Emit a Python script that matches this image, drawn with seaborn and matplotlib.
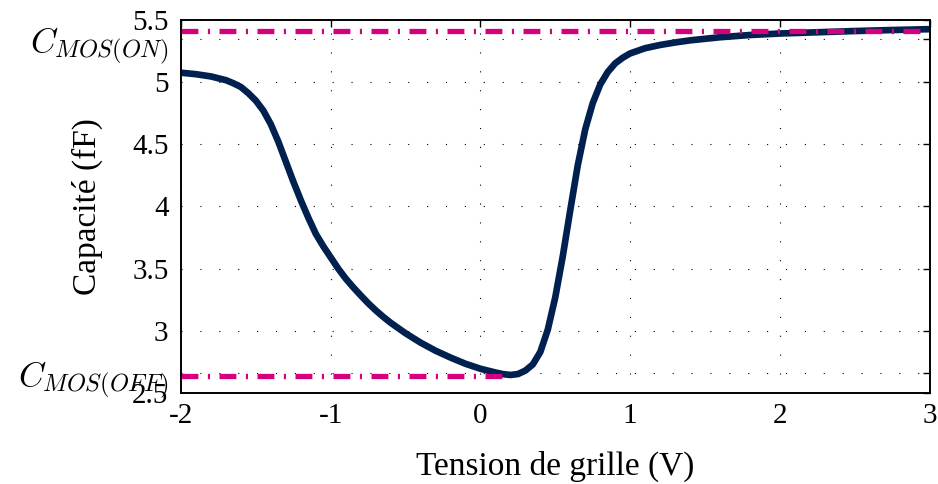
import matplotlib
matplotlib.use("Agg")
import matplotlib.pyplot as plt
import pandas as pd
import seaborn as sns

# ── data ────────────────────────────────────────────────────────────────────
v_gate = [-2.0, -1.9, -1.8, -1.7, -1.65, -1.6, -1.55, -1.5, -1.45, -1.4,
          -1.35, -1.3, -1.25, -1.2, -1.15, -1.1, -1.05, -1.0, -0.95, -0.9,
          -0.85, -0.8, -0.75, -0.7, -0.65, -0.6, -0.5, -0.4, -0.3, -0.2,
          -0.1, 0.0, 0.1, 0.15, 0.2, 0.25, 0.3, 0.35, 0.4,
          0.45, 0.5, 0.55, 0.6, 0.65, 0.7, 0.75, 0.8, 0.85, 0.9,
          0.95, 1.0, 1.1, 1.2, 1.3, 1.4, 1.6, 1.8, 2.0, 2.25,
          2.5, 2.75, 3.0]
capa = [5.075, 5.063, 5.045, 5.015, 4.99, 4.96, 4.91, 4.85, 4.77, 4.66,
        4.52, 4.36, 4.20, 4.05, 3.91, 3.78, 3.68, 3.59, 3.50, 3.42,
        3.35, 3.285, 3.222, 3.165, 3.113, 3.065, 2.98, 2.905, 2.84, 2.785,
        2.735, 2.695, 2.665, 2.652, 2.645, 2.652, 2.68, 2.73, 2.83,
        3.01, 3.27, 3.60, 3.97, 4.33, 4.62, 4.83, 4.98, 5.08, 5.15,
        5.195, 5.23, 5.272, 5.298, 5.318, 5.335, 5.36, 5.378, 5.39, 5.40,
        5.41, 5.418, 5.425]

c_on = 5.41
c_off = 2.64
on_span = [-2.0, 3.0]
off_span = [-2.0, 0.2]

ytick_vals = [2.5, 2.66, 3, 3.5, 4, 4.5, 5, 5.35, 5.5]
ytick_labels = ["2.5", r"$C_{MOS(OFF)}$", "3", "3.5", "4", "4.5", "5",
                r"$C_{MOS(ON)}$", "5.5"]
xtick_vals = [-2, -1, 0, 1, 2, 3]

NAVY = "#00214F"
MAGENTA = "#D6007F"

sns.set_theme(style="white")
plt.rcParams["font.family"] = ["Liberation Serif", "DejaVu Serif"]
plt.rcParams["mathtext.fontset"] = "cm"

df = pd.DataFrame({"V": v_gate, "C": capa})

fig = plt.figure(figsize=(9.38, 4.84), dpi=100)
ax = fig.add_axes([0.193, 0.188, 0.798, 0.771])

sns.lineplot(data=df, x="V", y="C", color=NAVY, linewidth=4.8, ax=ax)

dash = (3.2, 1.8, 0.4, 1.8)
ax.plot(on_span, [c_on, c_on], color=MAGENTA, linewidth=3.8, dashes=dash)
ax.plot(off_span, [c_off, c_off], color=MAGENTA, linewidth=3.8, dashes=dash)

ax.set_xlim(-2, 3)
ax.set_ylim(2.5, 5.5)
ax.set_xticks(xtick_vals)
ax.set_xticklabels([str(v) for v in xtick_vals])
ax.set_yticks(ytick_vals)
ax.set_yticklabels(ytick_labels)

ax.grid(True, color="black", linestyle=(0, (1, 16)), linewidth=0.8)
for s in ax.spines.values():
    s.set_visible(True)
    s.set_color("black")
    s.set_linewidth(1.4)

ax.tick_params(direction="in", length=5, width=1, top=True, right=True,
               labelsize=21, colors="black")
ax.tick_params(axis="y", pad=9)
ax.tick_params(axis="x", pad=7)

# the C_MOS labels are drawn a bit larger than the numbers
for lab in ax.get_yticklabels():
    if "MOS" in lab.get_text():
        lab.set_fontsize(25)

ax.set_xlabel("Tension de grille (V)", fontsize=24, color="black", labelpad=16)
ax.set_ylabel("Capacité (fF)", fontsize=24, color="black")
ax.yaxis.set_label_coords(-0.104, 0.5)

fig.savefig("out.png", dpi=100, facecolor="white")
